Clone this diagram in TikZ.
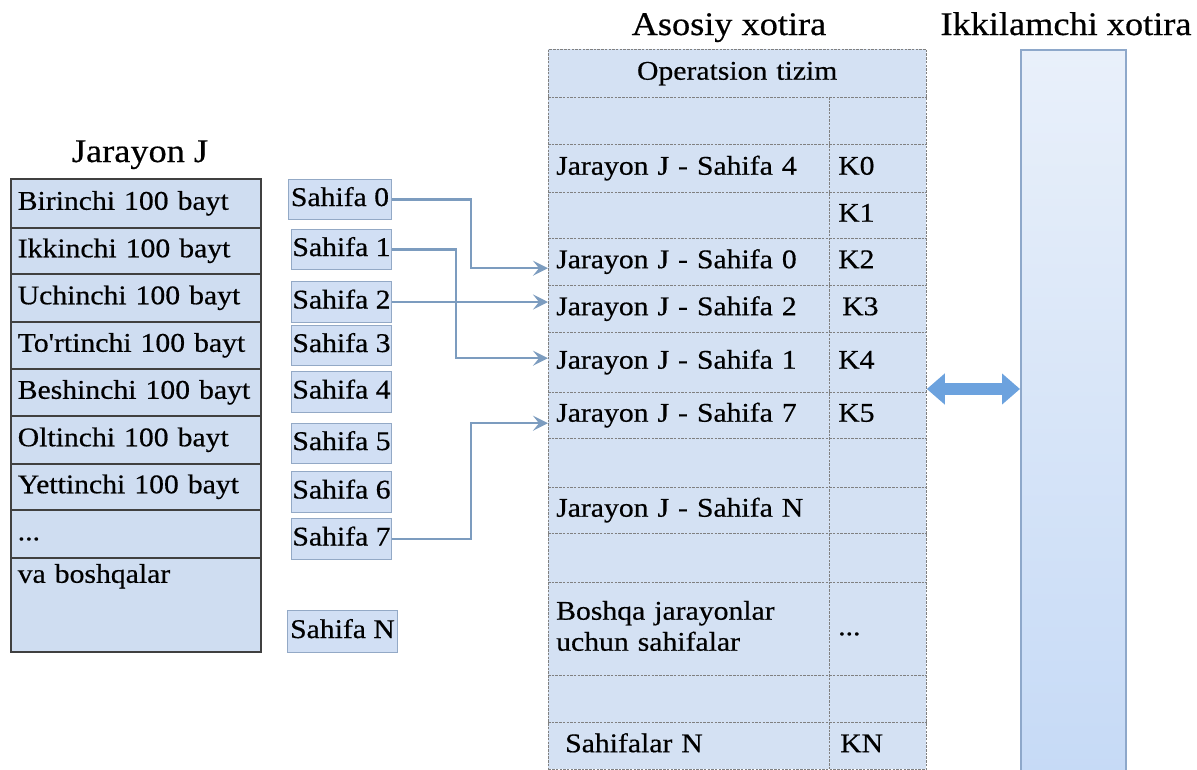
\documentclass[tikz,border=0pt]{standalone}
\usepackage{fontspec}
\setmainfont{Liberation Serif}[FakeStretch=1.1, FakeBold=0.5, Ligatures=TeXOff]
\usetikzlibrary{arrows.meta,calc}

\definecolor{cellfill}{HTML}{CFDDF1}
\definecolor{memfill}{HTML}{D4E1F3}
\definecolor{pagefill}{HTML}{D1DFF4}
\definecolor{pageedge}{HTML}{93A9C6}
\definecolor{gridline}{HTML}{808080}
\definecolor{linkcol}{HTML}{7C9CBF}
\definecolor{arrowfill}{HTML}{6CA2DE}
\definecolor{diskedge}{HTML}{8EA8CA}
\definecolor{disktop}{HTML}{E9F0FA}
\definecolor{diskbot}{HTML}{C6DAF6}
\definecolor{tableedge}{HTML}{404040}

\tikzset{
  txt/.style={font=\fontsize{27}{31}\selectfont, text=black},
  title/.style={font=\fontsize{33}{38}\selectfont, text=black, inner sep=0pt},
  lrow/.style={txt, draw=tableedge, line width=1.5pt, fill=cellfill,
    anchor=north west, minimum width=250pt, text width=236pt, align=left,
    inner xsep=7pt, inner ysep=0pt, text height=19pt, text depth=6pt},
  pagebox/.style={txt, draw=pageedge, line width=1pt, fill=pagefill,
    anchor=north west, inner sep=0pt, text height=19pt, text depth=6pt},
  memframe/.style={draw=gridline, line width=0.8pt, dash pattern=on 2.5pt off 1.2pt,
    fill=memfill, anchor=north west, inner sep=0pt},
  gridrule/.style={draw=gridline, line width=0.8pt, dash pattern=on 2.5pt off 1.2pt},
  mcell/.style={txt, anchor=north west, inner xsep=8pt, inner ysep=0pt,
    minimum width=281pt, text width=265pt, align=left,
    text height=19pt, text depth=6pt},
  kcell/.style={txt, anchor=north west, inner xsep=9pt, inner ysep=0pt,
    minimum width=97pt, text width=79pt, align=left,
    text height=19pt, text depth=6pt},
  link/.style={draw=linkcol, line width=2.2pt,
    -{Stealth[length=15pt,width=15pt,inset=6pt]}},
  swap/.style={draw=arrowfill, line width=12pt,
    {Triangle[length=18pt,width=30pt]}-{Triangle[length=18pt,width=30pt]}},
  disk/.style={draw=diskedge, line width=1.5pt, top color=disktop,
    bottom color=diskbot, anchor=north west, inner sep=0pt}
}

\begin{document}
\begin{tikzpicture}[x=1pt,y=-1pt]
\useasboundingbox (0,0) rectangle (1197,769);

% ---- process J and its pieces ----
\node[title, anchor=base] (titleJ) at (140,162) {Jarayon J};
\node[lrow, minimum height=49pt] (l1) at (10,178) {Birinchi 100 bayt};
\node[lrow, minimum height=46pt] (l2) at (10,227) {Ikkinchi 100 bayt};
\node[lrow, minimum height=48pt] (l3) at (10,273) {Uchinchi 100 bayt};
\node[lrow, minimum height=47pt] (l4) at (10,321) {To'rtinchi 100 bayt};
\node[lrow, minimum height=47pt] (l5) at (10,368) {Beshinchi 100 bayt};
\node[lrow, minimum height=48pt] (l6) at (10,415) {Oltinchi 100 bayt};
\node[lrow, minimum height=46pt] (l7) at (10,463) {Yettinchi 100 bayt};
\node[lrow, minimum height=48pt] (l8) at (10,509) {...};
\node[lrow, minimum height=94pt, text height=25pt, text depth=69pt] (l9) at (10,557) {va boshqalar};

% ---- pages ----
\node[pagebox, minimum width=103pt, minimum height=40pt] (s0) at (288,179) {Sahifa 0};
\node[pagebox, minimum width=100pt, minimum height=40pt] (s1) at (291,229) {Sahifa 1};
\node[pagebox, minimum width=100pt, minimum height=41pt] (s2) at (291,281) {Sahifa 2};
\node[pagebox, minimum width=100pt, minimum height=40pt] (s3) at (291,325) {Sahifa 3};
\node[pagebox, minimum width=100pt, minimum height=41pt] (s4) at (291,371) {Sahifa 4};
\node[pagebox, minimum width=100pt, minimum height=40pt] (s5) at (291,423) {Sahifa 5};
\node[pagebox, minimum width=100pt, minimum height=41pt] (s6) at (291,471) {Sahifa 6};
\node[pagebox, minimum width=100pt, minimum height=41pt] (s7) at (291,518) {Sahifa 7};
\node[pagebox, minimum width=110pt, minimum height=42pt] (sN) at (287,610) {Sahifa N};

% ---- main memory ----
\node[title, anchor=base] (titleA) at (729,35) {Asosiy xotira};
\node[memframe, minimum width=378pt, minimum height=720pt] (mem) at (548,49) {};

\node[mcell, minimum width=378pt, text width=362pt, align=center, minimum height=48pt] (op) at (548,49) {Operatsion tizim};
\node[mcell, minimum height=47pt] (a1) at (548,97) {};
\node[mcell, minimum height=48pt] (a2) at (548,144) {Jarayon J - Sahifa 4};
\node[mcell, minimum height=46pt] (a3) at (548,192) {};
\node[mcell, minimum height=47pt] (a4) at (548,238) {Jarayon J - Sahifa 0};
\node[mcell, minimum height=47pt] (a5) at (548,285) {Jarayon J - Sahifa 2};
\node[mcell, minimum height=60pt] (a6) at (548,332) {Jarayon J - Sahifa 1};
\node[mcell, minimum height=46pt] (a7) at (548,392) {Jarayon J - Sahifa 7};
\node[mcell, minimum height=49pt] (a8) at (548,438) {};
\node[mcell, minimum height=46pt] (a9) at (548,487) {Jarayon J - Sahifa N};
\node[mcell, minimum height=49pt] (a10) at (548,533) {};
\node[mcell, minimum height=93pt, text depth=37pt] (a11) at (548,582) {Boshqa jarayonlar\\uchun sahifalar};
\node[mcell, minimum height=47pt] (a12) at (548,675) {};
\node[mcell, minimum height=47pt, inner xsep=17pt] (a13) at (548,722) {Sahifalar N};

\node[kcell, minimum height=47pt] (k1) at (829,97) {};
\node[kcell, minimum height=48pt] (k2) at (829,144) {K0};
\node[kcell, minimum height=46pt] (k3) at (829,192) {K1};
\node[kcell, minimum height=47pt] (k4) at (829,238) {K2};
\node[kcell, minimum height=47pt, inner xsep=13pt] (k5) at (829,285) {K3};
\node[kcell, minimum height=60pt] (k6) at (829,332) {K4};
\node[kcell, minimum height=46pt] (k7) at (829,392) {K5};
\node[kcell, minimum height=93pt, inner xsep=6pt] (k11) at (829,582) {...};
\node[kcell, minimum height=47pt, inner xsep=11pt] (k13) at (829,722) {KN};

% row separators and column divider
\foreach \r in {a1,a2,a3,a4,a5,a6,a7,a8,a9,a10,a11,a12,a13}
  \draw[gridrule] (\r.north west) -- (\r.north west -| mem.east);
\draw[gridrule] (k1.north west) -- (k1.north west |- mem.south);

% ---- secondary memory ----
\node[title, anchor=base] (titleI) at (1066,35) {Ikkilamchi xotira};
\node[disk, minimum width=105pt, minimum height=725pt] (sec) at (1020,49) {};

% ---- page links ----
\draw[link] (s0.east) -- ++(79,0) |- ([yshift=-6.5pt]a4.west);
\draw[link] (s1.east) -- ++(64,0) |- ([yshift=4pt]a6.west);
\draw[link] (s2.east) -- (s2.east -| mem.west);
\draw[link] (s7.east) -- ++(79,0) |- ([yshift=-8pt]a7.west);

% ---- swapping between memories ----
\coordinate (swaplevel) at (0,389);
\draw[swap] (mem.east |- swaplevel) -- (sec.west |- swaplevel);
\end{tikzpicture}
\end{document}
